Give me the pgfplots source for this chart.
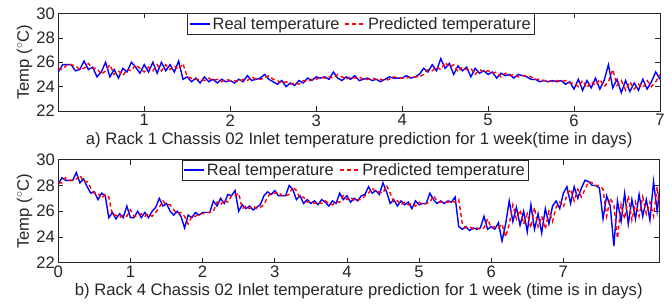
\documentclass[border=0pt]{standalone}
\usepackage{fontspec}
\setmainfont{Liberation Sans}
\usepackage{pgfplots}
\pgfplotsset{compat=1.18}
\definecolor{axgray}{RGB}{38,38,38}
\pgfplotsset{
  myax/.style={
    scale only axis,
    ymin=22, ymax=30, ytick={22,24,26,28,30},
    /pgf/number format/assume math mode=true,
    axis line style={axgray, line width=0.6bp},
    tick style={axgray, line width=0.6bp},
    major tick length=5bp,
    tick label style={text=axgray},
    label style={text=axgray},
    ylabel={Temp ($^{\circ}$C)},
    ylabel style={yshift=-3bp},
    xlabel style={yshift=1bp},
    legend columns=2,
    legend style={draw=axgray, fill=white, line width=0.6bp, inner sep=1.5bp, text=axgray,
      font=\fontsize{16.5}{19}\selectfont,
      /tikz/every even column/.append style={column sep=3bp}},
    legend cell align=left,
    legend image code/.code={\draw[#1] (0bp,0bp) -- (20bp,0bp);},
  },
  realst/.style={blue, line width=1.4bp},
  predst/.style={red, line width=1.4bp, dash pattern=on 4bp off 3bp},
}
\begin{document}
\begin{tikzpicture}[font=\fontsize{16.7}{19}\selectfont]
\useasboundingbox (-58.3bp,13.5bp) rectangle (613.7bp,-292.5bp);
\begin{axis}[myax, at={(0bp,0bp)}, anchor=north west,
  width=601.7bp, height=97.5bp,
  xmin=0, xmax=7, xtick={1,2,3,4,5,6,7},
  xlabel={a) Rack 1 Chassis 02 Inlet temperature prediction for 1 week(time in days)},
  legend style={at={(0.503,1)}, anchor=north}]
\addplot[realst] coordinates {
(0.00,25.2)(0.05,25.8)(0.10,25.8)(0.15,25.8)(0.20,25.3)(0.25,25.4)(0.30,26.1)(0.35,25.4)(0.40,25.6)(0.45,24.8)
(0.50,25.2)(0.55,26.0)(0.60,24.8)(0.65,25.4)(0.70,24.7)(0.75,25.5)(0.80,25.2)(0.85,26.0)(0.90,25.6)(0.95,25.1)
(1.00,25.8)(1.05,25.2)(1.10,26.0)(1.15,25.1)(1.20,26.0)(1.25,25.3)(1.30,25.8)(1.35,25.2)(1.40,26.1)(1.45,24.6)
(1.50,24.8)(1.55,24.4)(1.60,24.7)(1.65,24.3)(1.70,24.8)(1.75,24.4)(1.80,24.6)(1.85,24.3)(1.90,24.6)(1.95,24.4)
(2.00,24.5)(2.05,24.3)(2.10,24.6)(2.15,24.4)(2.20,24.9)(2.25,24.5)(2.30,24.6)(2.35,24.7)(2.40,25.0)(2.45,24.6)
(2.50,24.4)(2.55,24.2)(2.60,24.5)(2.65,24.0)(2.70,24.3)(2.75,24.1)(2.80,24.5)(2.85,24.3)(2.90,24.7)(2.95,24.5)
(3.00,24.8)(3.05,24.7)(3.10,24.8)(3.15,24.6)(3.20,25.2)(3.25,24.7)(3.30,24.5)(3.35,24.8)(3.40,24.6)(3.45,24.9)
(3.50,24.5)(3.55,24.6)(3.60,24.7)(3.65,24.5)(3.70,24.6)(3.75,24.4)(3.80,24.6)(3.85,24.8)(3.90,24.7)(3.95,24.7)
(4.00,24.7)(4.05,24.9)(4.10,24.7)(4.15,24.8)(4.20,25.0)(4.25,25.5)(4.30,25.2)(4.35,25.8)(4.40,25.3)(4.45,26.3)
(4.50,25.5)(4.55,25.9)(4.60,25.0)(4.65,25.7)(4.70,25.3)(4.75,25.6)(4.80,24.8)(4.85,25.5)(4.90,25.1)(4.95,25.3)
(5.00,25.0)(5.05,25.2)(5.10,24.7)(5.15,25.1)(5.20,24.9)(5.25,25.0)(5.30,24.7)(5.35,25.0)(5.40,24.9)(5.45,24.8)
(5.50,24.6)(5.55,24.6)(5.60,24.4)(5.65,24.5)(5.70,24.4)(5.75,24.5)(5.80,24.4)(5.85,24.5)(5.90,24.2)(5.95,24.4)
(6.00,23.8)(6.05,24.6)(6.10,23.7)(6.15,24.5)(6.20,23.9)(6.25,24.7)(6.30,23.8)(6.35,24.5)(6.40,25.8)(6.45,23.9)
(6.50,24.6)(6.55,23.5)(6.60,24.5)(6.65,23.6)(6.70,24.3)(6.75,23.7)(6.80,24.6)(6.85,23.8)(6.90,24.4)(6.95,25.2)
(7.00,24.6)};
\addlegendentry{Real temperature}
\addplot[predst] coordinates {
(0.00,25.5)(0.05,25.4)(0.10,25.8)(0.15,25.8)(0.20,25.7)(0.25,25.4)(0.30,25.5)(0.35,25.9)(0.40,25.5)(0.45,25.5)
(0.50,25.0)(0.55,25.3)(0.60,25.8)(0.65,25.0)(0.70,25.3)(0.75,24.9)(0.80,25.4)(0.85,25.3)(0.90,25.8)(0.95,25.5)
(1.00,25.2)(1.05,25.6)(1.10,25.3)(1.15,25.8)(1.20,25.3)(1.25,25.8)(1.30,25.4)(1.35,25.7)(1.40,25.4)(1.45,25.9)
(1.50,24.8)(1.55,24.7)(1.60,24.6)(1.65,24.6)(1.70,24.5)(1.75,24.7)(1.80,24.5)(1.85,24.6)(1.90,24.4)(1.95,24.6)
(2.00,24.5)(2.05,24.5)(2.10,24.4)(2.15,24.6)(2.20,24.5)(2.25,24.8)(2.30,24.6)(2.35,24.6)(2.40,24.7)(2.45,24.9)
(2.50,24.6)(2.55,24.5)(2.60,24.3)(2.65,24.4)(2.70,24.2)(2.75,24.3)(2.80,24.2)(2.85,24.5)(2.90,24.4)(2.95,24.6)
(3.00,24.6)(3.05,24.8)(3.10,24.7)(3.15,24.8)(3.20,24.7)(3.25,25.0)(3.30,24.8)(3.35,24.6)(3.40,24.8)(3.45,24.7)
(3.50,24.8)(3.55,24.6)(3.60,24.6)(3.65,24.7)(3.70,24.6)(3.75,24.6)(3.80,24.5)(3.85,24.6)(3.90,24.8)(3.95,24.7)
(4.00,24.7)(4.05,24.7)(4.10,24.8)(4.15,24.8)(4.20,24.8)(4.25,25.0)(4.30,25.4)(4.35,25.3)(4.40,25.6)(4.45,25.4)
(4.50,26.0)(4.55,25.6)(4.60,25.8)(4.65,25.2)(4.70,25.6)(4.75,25.4)(4.80,25.5)(4.85,25.0)(4.90,25.4)(4.95,25.2)
(5.00,25.3)(5.05,25.1)(5.10,25.2)(5.15,24.8)(5.20,25.1)(5.25,24.9)(5.30,25.0)(5.35,24.8)(5.40,24.9)(5.45,24.9)
(5.50,24.8)(5.55,24.6)(5.60,24.6)(5.65,24.5)(5.70,24.5)(5.75,24.4)(5.80,24.5)(5.85,24.4)(5.90,24.5)(5.95,24.3)
(6.00,24.3)(6.05,24.0)(6.10,24.5)(6.15,23.9)(6.20,24.4)(6.25,24.1)(6.30,24.6)(6.35,24.0)(6.40,24.4)(6.45,25.4)
(6.50,24.1)(6.55,24.5)(6.60,23.7)(6.65,24.4)(6.70,23.8)(6.75,24.2)(6.80,23.9)(6.85,24.5)(6.90,24.0)(6.95,24.4)
(7.00,25.0)};
\addlegendentry{Predicted temperature}
\end{axis}
\begin{axis}[myax, at={(0bp,-146.2bp)}, anchor=north west,
  width=601bp, height=103bp,
  xmin=0, xmax=8.33, xtick={0,1,2,3,4,5,6,7},
  xlabel={b) Rack 4 Chassis 02 Inlet temperature prediction for 1 week (time is in days)},
  legend style={at={(0.494,1)}, anchor=north}]
\addplot[realst] coordinates {
(0.00,28.1)(0.05,28.6)(0.10,28.4)(0.15,28.4)(0.20,28.4)(0.25,29.0)(0.30,28.2)(0.35,28.5)(0.40,27.9)(0.45,27.4)
(0.50,27.5)(0.55,26.9)(0.60,27.4)(0.65,27.2)(0.70,25.5)(0.75,25.9)(0.80,25.4)(0.85,25.8)(0.90,25.5)(0.95,26.4)
(1.00,25.5)(1.05,25.5)(1.10,26.0)(1.15,25.5)(1.20,25.9)(1.25,25.5)(1.30,26.0)(1.35,26.3)(1.40,27.0)(1.45,26.4)
(1.50,26.6)(1.55,26.0)(1.60,25.7)(1.65,26.0)(1.70,25.6)(1.75,24.7)(1.80,25.7)(1.85,25.5)(1.90,25.9)(1.95,25.7)
(2.00,25.9)(2.05,25.9)(2.10,25.9)(2.15,26.8)(2.20,26.4)(2.25,27.0)(2.30,26.6)(2.35,27.3)(2.40,27.2)(2.45,27.6)
(2.50,26.0)(2.55,26.5)(2.60,26.2)(2.65,26.4)(2.70,26.1)(2.75,26.3)(2.80,26.5)(2.85,27.2)(2.90,27.5)(2.95,27.3)
(3.00,27.6)(3.05,27.2)(3.10,27.2)(3.15,27.2)(3.20,28.0)(3.25,27.7)(3.30,26.9)(3.35,27.2)(3.40,26.6)(3.45,26.9)
(3.50,26.6)(3.55,26.8)(3.60,26.5)(3.65,26.9)(3.70,26.7)(3.75,26.4)(3.80,26.8)(3.85,26.6)(3.90,27.4)(3.95,26.9)
(4.00,27.2)(4.05,26.7)(4.10,27.0)(4.15,26.8)(4.20,27.2)(4.25,27.3)(4.30,27.9)(4.35,27.4)(4.40,27.6)(4.45,27.3)
(4.50,28.2)(4.55,27.5)(4.60,26.6)(4.65,26.9)(4.70,26.4)(4.75,26.8)(4.80,26.5)(4.85,26.7)(4.90,26.2)(4.95,26.8)
(5.00,26.5)(5.05,26.6)(5.10,26.6)(5.15,27.4)(5.20,26.9)(5.25,26.6)(5.30,26.8)(5.35,26.6)(5.40,26.8)(5.45,26.7)
(5.50,27.1)(5.55,24.8)(5.60,24.6)(5.65,24.8)(5.70,24.5)(5.75,24.7)(5.80,24.6)(5.85,24.7)(5.90,25.6)(5.95,24.6)
(6.00,24.8)(6.05,24.6)(6.10,25.1)(6.15,23.7)(6.20,25.0)(6.25,26.8)(6.30,25.2)(6.35,26.3)(6.40,24.9)(6.45,26.0)
(6.50,24.4)(6.55,26.5)(6.60,24.6)(6.65,25.8)(6.70,24.3)(6.75,26.2)(6.80,25.0)(6.85,26.4)(6.90,26.8)(6.95,26.2)
(7.00,27.4)(7.05,27.9)(7.10,26.6)(7.15,27.9)(7.20,27.0)(7.25,27.8)(7.30,28.4)(7.35,28.3)(7.40,28.0)(7.45,28.0)
(7.50,27.8)(7.55,25.4)(7.60,27.2)(7.65,26.4)(7.70,23.3)(7.75,26.8)(7.80,25.2)(7.85,27.4)(7.90,25.0)(7.95,26.9)
(8.00,25.4)(8.05,27.3)(8.10,25.6)(8.15,26.9)(8.20,25.3)(8.25,28.3)(8.30,26.0)(8.33,27.5)};
\addlegendentry{Real temperature}
\addplot[predst] coordinates {
(0.00,28.2)(0.05,28.2)(0.10,28.6)(0.15,28.4)(0.20,28.4)(0.25,28.5)(0.30,28.8)(0.35,28.3)(0.40,28.3)(0.45,27.8)
(0.50,27.4)(0.55,27.4)(0.60,27.0)(0.65,27.3)(0.70,27.1)(0.75,25.7)(0.80,25.7)(0.85,25.5)(0.90,25.7)(0.95,25.6)
(1.00,26.1)(1.05,25.6)(1.10,25.6)(1.15,25.8)(1.20,25.6)(1.25,25.8)(1.30,25.6)(1.35,25.9)(1.40,26.3)(1.45,26.8)
(1.50,26.5)(1.55,26.5)(1.60,26.1)(1.65,25.8)(1.70,25.9)(1.75,25.6)(1.80,25.0)(1.85,25.6)(1.90,25.6)(1.95,25.8)
(2.00,25.8)(2.05,25.9)(2.10,25.9)(2.15,26.0)(2.20,26.7)(2.25,26.5)(2.30,26.9)(2.35,26.7)(2.40,27.2)(2.45,27.2)
(2.50,27.4)(2.55,26.2)(2.60,26.4)(2.65,26.2)(2.70,26.4)(2.75,26.2)(2.80,26.3)(2.85,26.5)(2.90,27.1)(2.95,27.4)
(3.00,27.4)(3.05,27.5)(3.10,27.2)(3.15,27.2)(3.20,27.3)(3.25,27.9)(3.30,27.6)(3.35,27.0)(3.40,27.1)(3.45,26.7)
(3.50,26.8)(3.55,26.6)(3.60,26.7)(3.65,26.6)(3.70,26.8)(3.75,26.6)(3.80,26.5)(3.85,26.7)(3.90,26.7)(3.95,27.2)
(4.00,26.9)(4.05,27.1)(4.10,26.8)(4.15,26.9)(4.20,26.9)(4.25,27.2)(4.30,27.4)(4.35,27.8)(4.40,27.5)(4.45,27.5)
(4.50,27.4)(4.55,28.0)(4.60,27.4)(4.65,26.7)(4.70,26.8)(4.75,26.5)(4.80,26.7)(4.85,26.5)(4.90,26.6)(4.95,26.4)
(5.00,26.7)(5.05,26.5)(5.10,26.6)(5.15,26.7)(5.20,27.2)(5.25,26.8)(5.30,26.7)(5.35,26.7)(5.40,26.7)(5.45,26.8)
(5.50,26.7)(5.55,26.9)(5.60,25.0)(5.65,24.7)(5.70,24.8)(5.75,24.6)(5.80,24.7)(5.85,24.6)(5.90,24.7)(5.95,25.4)
(6.00,24.7)(6.05,24.8)(6.10,24.7)(6.15,25.0)(6.20,24.0)(6.25,25.0)(6.30,26.5)(6.35,25.4)(6.40,26.1)(6.45,25.0)
(6.50,25.8)(6.55,24.7)(6.60,26.3)(6.65,24.8)(6.70,25.6)(6.75,24.6)(6.80,26.0)(6.85,25.2)(6.90,26.3)(6.95,26.7)
(7.00,26.3)(7.05,27.3)(7.10,27.7)(7.15,26.8)(7.20,27.7)(7.25,27.1)(7.30,27.7)(7.35,28.3)(7.40,28.2)(7.45,28.0)
(7.50,28.0)(7.55,27.7)(7.60,25.6)(7.65,27.0)(7.70,26.5)(7.75,23.9)(7.80,26.5)(7.85,25.4)(7.90,27.2)(7.95,25.3)
(8.00,26.7)(8.05,25.6)(8.10,27.1)(8.15,25.8)(8.20,26.7)(8.25,25.6)(8.30,27.9)(8.33,26.3)};
\addlegendentry{Predicted temperature}
\end{axis}
\end{tikzpicture}
\end{document}
